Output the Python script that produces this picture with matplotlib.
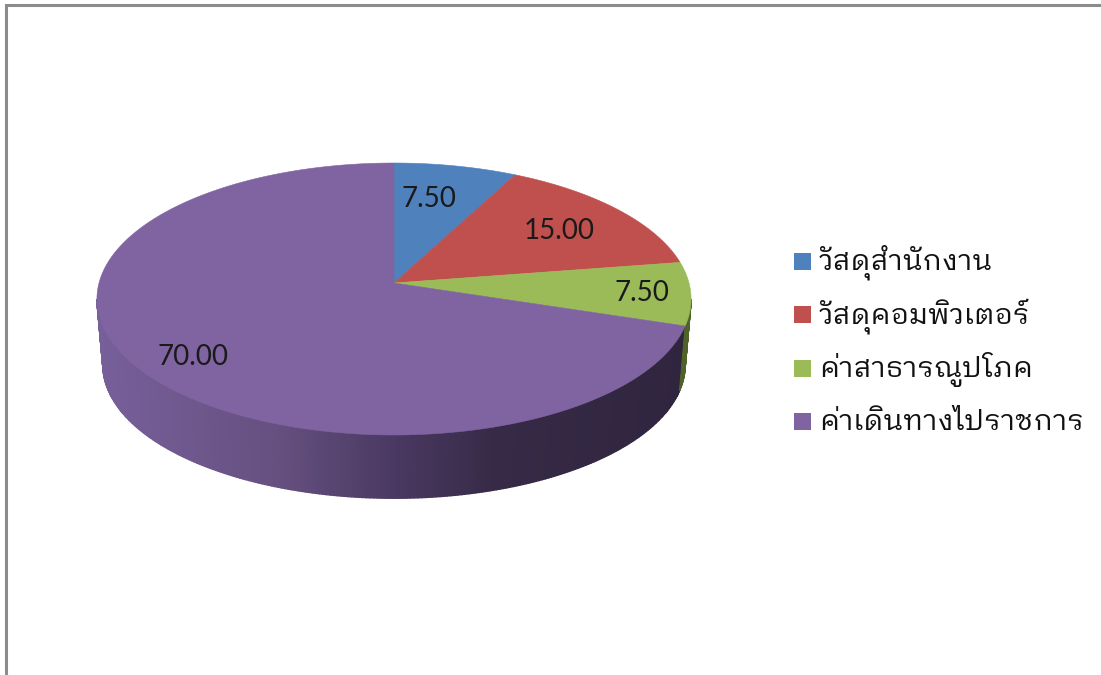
import numpy as np
import matplotlib
matplotlib.use("Agg")
import matplotlib.pyplot as plt
from matplotlib.colors import LinearSegmentedColormap
from matplotlib.patches import Rectangle

categories = ["วัสดุสำนักงาน", "วัสดุคอมพิวเตอร์", "ค่าสาธารณูปโภค", "ค่าเดินทางไปราชการ"]
values = [7.5, 15.0, 7.5, 70.0]
value_labels = ["7.50", "15.00", "7.50", "70.00"]
colors = ["#4f81bd", "#c0504d", "#9bbb59", "#8064a2"]

plt.rcParams["font.family"] = ["IBM Plex Sans Thai Looped", "Lato", "DejaVu Sans"]

cx, cy = 394.0, 283.0  # apex of the pie in pixels
A, B, k = 134.1, 295.0, 0.1176  # perspective of the top face
depth = 66.0
shrink = 0.98


def top_face(theta):
    d = 1 + k * np.sin(theta)
    return cx + B * np.cos(theta) / d, cy - A * np.sin(theta) / d


def bottom_rim(theta):
    x, y = top_face(theta)
    return cx + (x - cx) * shrink, 299 + depth + (y - 299) * shrink


fig = plt.figure(figsize=(11.01, 6.75), dpi=100)
ax = fig.add_axes([0, 0, 1, 1])
ax.set_xlim(0, 1101)
ax.set_ylim(675, 0)
ax.axis("off")

# frame
ax.plot([6, 6, 1101], [675, 5, 5], color="#8c8c8c", lw=2.2, solid_joinstyle="miter")

# slice edges, clockwise from 12 o'clock
edges = np.radians(90 - 360 * np.concatenate([[0], np.cumsum(values)]) / np.sum(values))

# side of the pie
shade = LinearSegmentedColormap.from_list(
    "shade", [(0, "#77609a"), (0.3, "#665080"), (0.5, "#4a3962"), (0.68, "#362a46"), (1, "#30253f")])
sweep = np.linspace(-np.pi - np.arcsin(-k), np.arcsin(-k), 260)
for a, b in zip(sweep[:-1], sweep[1:]):
    mid = 0.5 * (a + b)
    xt, yt = top_face(np.array([a, b]))
    xb, yb = bottom_rim(np.array([a, b]))
    if mid > edges[3]:
        col = "#4f6228"
    else:
        col = shade((0.5 * (xt[0] + xt[1]) - 97) / 594)
    ax.fill([xt[0], xt[1], xb[1], xb[0]], [yt[0], yt[1], yb[1], yb[0]],
            facecolor=col, edgecolor=col, lw=1.0)

# top face
for i in range(len(values)):
    th = np.linspace(edges[i], edges[i + 1], 200)
    x, y = top_face(th)
    ax.fill(np.r_[cx, x], np.r_[cy, y], color=colors[i], lw=0.4)

# value labels
label_x = [429, 559, 642, 193]
label_y = [199, 231, 293, 357]
for t, lx, ly in zip(value_labels, label_x, label_y):
    ax.text(lx, ly, t, ha="center", va="center", fontsize=20, color="#1a1a1a", family=["Lato", "DejaVu Sans"])

# legend, rows are not evenly spaced with ax.legend because of the thai marks
row_y = [261, 314, 368, 421]
for name, c, ry in zip(categories, colors, row_y):
    ax.add_patch(Rectangle((794, ry - 8.5), 17, 17, facecolor=c, edgecolor="none"))
    ax.text(819, ry + 9, name, ha="left", va="baseline", fontsize=20.7, color="#111111")

fig.savefig("out.png", dpi=100)
